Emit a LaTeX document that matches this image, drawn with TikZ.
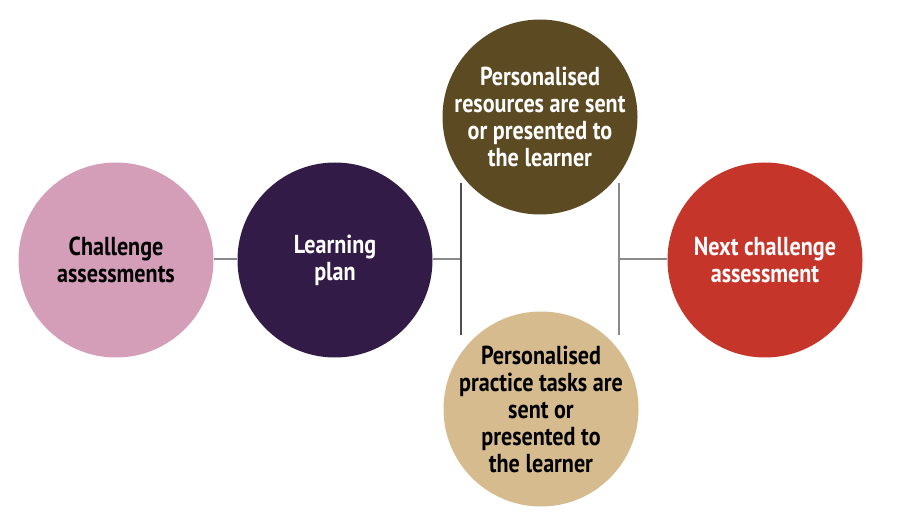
\documentclass[tikz,border=0pt]{standalone}
\usepackage{fontspec}
\setmainfont{PT Sans}[FakeStretch=0.85]
\usepackage{xcolor}
\usetikzlibrary{positioning}
\definecolor{stagepink}{HTML}{D49DB8}
\definecolor{stagepurple}{HTML}{321C47}
\definecolor{stagebrown}{HTML}{5B4A22}
\definecolor{stagetan}{HTML}{D5BB8E}
\definecolor{stagered}{HTML}{C6352A}
\definecolor{linkgray}{HTML}{8A8A8A}
\definecolor{linkdark}{HTML}{4E4E4E}
\tikzset{
  stage/.style={circle, minimum size=195pt, inner sep=-40pt, align=center,
    font=\fontsize{26}{27}\selectfont\bfseries},
  darkstage/.style={stage, text=white},
  lightstage/.style={stage, text=black},
  link/.style={linkgray, line width=1.3pt},
  darklink/.style={linkdark, line width=1.3pt}
}
\begin{document}
\begin{tikzpicture}[x=1pt,y=-1pt]
  \useasboundingbox (0,0) rectangle (900,518);
  \node[lightstage, fill=stagepink] (challenge) at (116,260) {Challenge\\assessments};
  \node[darkstage, fill=stagepurple] (plan) at (335,260) {Learning\\plan};
  \node[darkstage, fill=stagebrown] (resources) at (540,117) {Personalised\\resources are sent\\or presented to\\the learner};
  \node[lightstage, fill=stagetan] (tasks) at (541,409) {Personalised\\practice tasks are\\sent or\\presented to\\the learner};
  \node[darkstage, fill=stagered] (next) at (765,260) {Next challenge\\assessment};
  % branch points
  \coordinate (splitL) at (461,259);
  \coordinate (splitLtop) at (461,183);
  \coordinate (splitLbot) at (461,335);
  \coordinate (splitR) at (619,259);
  \coordinate (splitRtop) at (619,183);
  \coordinate (splitRbot) at (619,335);
  \draw[link] (challenge.east |- splitL) -- (plan.west |- splitL);
  \draw[link] (plan.east |- splitL) -- (splitL);
  \draw[darklink] (splitLtop) -- (splitLbot);
  \draw[link] (splitRtop) -- (splitRbot);
  \draw[link] (splitR) -- (next.west |- splitR);
\end{tikzpicture}
\end{document}
